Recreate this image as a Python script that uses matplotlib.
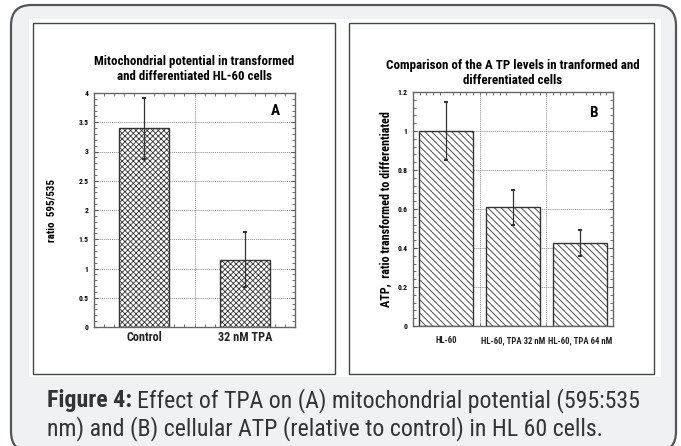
import matplotlib.pyplot as plt
from matplotlib.patches import FancyBboxPatch, Rectangle
from matplotlib.ticker import MultipleLocator
import numpy as np

# panel A data
a_labels = ["Control", "32 nM TPA"]
a_values = [3.40, 1.15]
a_errors = [0.52, 0.47]

# panel B data
b_labels = ["HL-60", "HL-60, TPA 32 nM", "HL-60, TPA 64 nM"]
b_values = [1.00, 0.61, 0.425]
b_errors = [0.15, 0.09, 0.065]

caption_bold = "Figure 4:"
caption_1 = "Effect of TPA on (A) mitochondrial potential (595:535"
caption_2 = "nm) and (B) cellular ATP (relative to control) in HL 60 cells."

FONT = ['Roboto Condensed', 'Liberation Sans', 'DejaVu Sans']
plt.rcParams['font.family'] = FONT
plt.rcParams['hatch.linewidth'] = 0.6
plt.rcParams['hatch.color'] = '#333333'

W, H = 681, 446
fig = plt.figure(figsize=(W / 100, H / 100), dpi=100)

def fbox(x0, y0, x1, y1):
    # pixel box (top-left origin) -> figure fraction
    return x0 / W, 1 - y1 / H, (x1 - x0) / W, (y1 - y0) / H

# outer rounded frame + white panel area (kept behind the axes)
x, y, w, h = fbox(11, 5, 676, 452)
fig.patches.append(FancyBboxPatch((x, y), w, h, boxstyle="round,pad=0,rounding_size=0.03",
                                  transform=fig.transFigure, facecolor='#f0f1f3',
                                  edgecolor='#555555', linewidth=1.6, mutation_aspect=W / H,
                                  zorder=-3))
x, y, w, h = fbox(29, 19, 661, 377)
fig.patches.append(Rectangle((x, y), w, h, transform=fig.transFigure, facecolor='white',
                             edgecolor='none', zorder=-2))
for px0, px1 in [(33, 335), (349, 654)]:
    x, y, w, h = fbox(px0, 23, px1, 374)
    fig.patches.append(Rectangle((x, y), w, h, transform=fig.transFigure, facecolor='white',
                                 edgecolor='#444444', linewidth=1.0, zorder=-1))


def style_axes(ax, ymax, ystep, nbars):
    ax.set_ylim(0, ymax)
    ax.set_xlim(-0.5, nbars - 0.5)
    ax.yaxis.set_major_locator(MultipleLocator(ystep))
    ax.yaxis.set_minor_locator(MultipleLocator(ystep / 5))
    ax.xaxis.set_minor_locator(MultipleLocator(0.1))
    ax.tick_params(which='both', direction='in', top=True, right=True, color='#555555')
    ax.tick_params(which='major', length=3, width=0.8)
    ax.tick_params(which='minor', length=2, width=0.6)
    ax.tick_params(axis='x', which='major', length=0)
    ax.tick_params(axis='y', labelsize=5.5, pad=4)
    for lab in ax.get_yticklabels():
        lab.set_fontweight('bold')
    for s in ax.spines.values():
        s.set_color('#666666')
        s.set_linewidth(1.0)
    ax.yaxis.grid(True, linestyle=(0, (1, 1)), color='#888888', linewidth=0.7)
    for i in range(nbars - 1):
        ax.axvline(i + 0.5, linestyle=(0, (1, 1)), color='#888888', linewidth=0.7)
    ax.set_axisbelow(True)


# Panel A
axA = fig.add_axes(fbox(94, 93, 295, 327))
xa = np.arange(len(a_values))
axA.bar(xa, a_values, width=0.5, facecolor='white', edgecolor='#333333', linewidth=1.0,
        hatch='xxxxxx', zorder=2)
axA.errorbar(xa, a_values, yerr=a_errors, fmt='none', ecolor='#333333', elinewidth=0.9,
             capsize=1.5, capthick=1.5, zorder=3)
style_axes(axA, 4, 0.5, len(a_values))
axA.yaxis.set_major_formatter(plt.FuncFormatter(lambda v, p: f"{v:g}"))
axA.set_xticks(xa)
axA.set_xticklabels(a_labels, fontsize=8.8, fontweight='bold', color='#222222')
axA.tick_params(axis='x', pad=3)
axA.set_ylabel("ratio  595/535", fontsize=8, fontweight='bold', labelpad=16)
axA.set_title("Mitochondrial potential in transformed\nand differentiated HL-60 cells",
              fontsize=9.3, fontweight='bold', pad=9, linespacing=1.2)
axA.text(0.9, 0.925, "A", transform=axA.transAxes, fontsize=11, fontweight='bold',
         ha='center', va='center')

# Panel B
axB = fig.add_axes(fbox(413, 92, 613, 326))
xb = np.arange(len(b_values))
axB.bar(xb, b_values, width=0.81, facecolor='white', edgecolor='#333333', linewidth=1.0,
        hatch='\\' * 5, zorder=2)
axB.errorbar(xb, b_values, yerr=b_errors, fmt='none', ecolor='#333333', elinewidth=0.9,
             capsize=1.5, capthick=1.5, zorder=3)
style_axes(axB, 1.2, 0.2, len(b_values))
axB.yaxis.set_major_formatter(plt.FuncFormatter(lambda v, p: f"{v:.1f}".rstrip('0').rstrip('.') if v else "0"))
axB.set_xticks(xb)
axB.set_xticklabels(b_labels, fontsize=6.3, fontweight='bold', color='#222222')
axB.tick_params(axis='x', pad=7)
axB.set_ylabel("ATP,  ratio transformed to differentiated", fontsize=8.7, fontweight='bold',
               labelpad=4)
axB.set_title("Comparison of the A TP levels in tranformed and\ndifferentiated cells",
              fontsize=9.4, fontweight='bold', pad=6, linespacing=1.2)
axB.text(0.9, 0.91, "B", transform=axB.transAxes, fontsize=11, fontweight='bold',
         ha='center', va='center')

# caption, sized so the first line spans the same width as the reference
size = 15
t0 = fig.text(47 / W, 1 - 401 / H, caption_bold, fontsize=size, fontweight='bold',
              color='#333333', va='center')
fig.canvas.draw()
r = fig.canvas.get_renderer()
t1 = fig.text(0, 1 - 401 / H, caption_1, fontsize=size, color='#333333', va='center')
span = t0.get_window_extent(r).width + 5 + t1.get_window_extent(r).width
size = size * 594 / span
t0.set_fontsize(size)
t1.set_fontsize(size)
bb = t0.get_window_extent(r)
t1.set_x((bb.x1 + 5) / W)
fig.text(47 / W, 1 - 429 / H, caption_2, fontsize=size, color='#333333', va='center')

fig.savefig("out.png", dpi=100)
